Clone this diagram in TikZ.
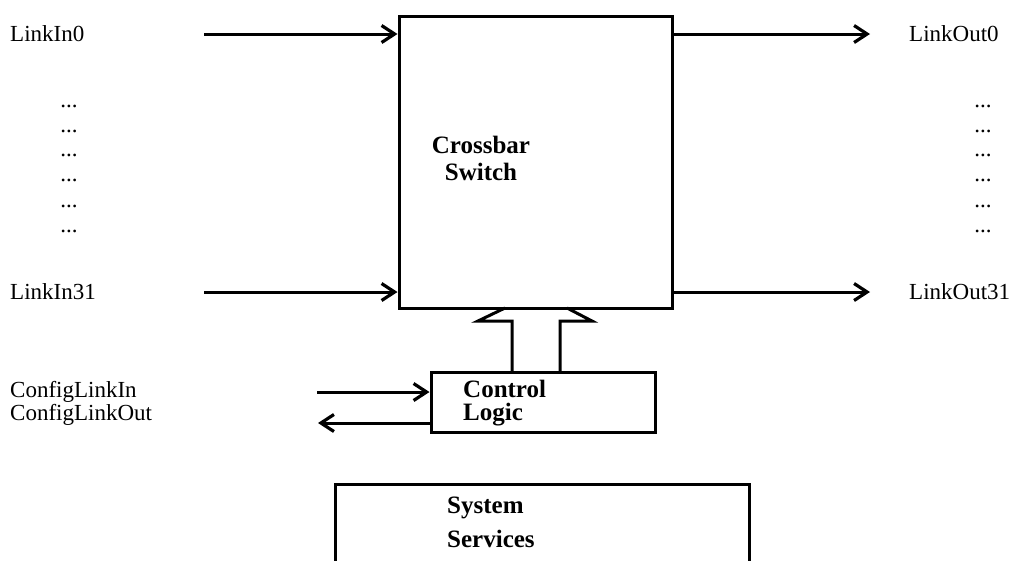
\documentclass[tikz,border=0pt]{standalone}
\usepackage{fontspec}
\setmainfont{Liberation Serif}
\usetikzlibrary{arrows.meta}
\tikzset{
  box/.style={draw=black, line width=3pt, fill=none, inner sep=0pt},
  lbl/.style={font=\fontsize{23}{27}\selectfont, inner sep=0pt, anchor=west},
  blbl/.style={font=\fontsize{25}{30}\selectfont\bfseries, inner sep=0pt, align=left, anchor=west},
  dotsl/.style={font=\fontsize{23}{27}\selectfont, inner sep=0pt},
  conn/.style={line width=3pt, -{Straight Barb[length=13pt,width=17pt,line width=3.2pt]}},
  blk/.style={line width=3pt, line join=miter}
}
\begin{document}
\begin{tikzpicture}[x=1pt,y=-1pt]
\useasboundingbox (0,0) rectangle (1011,560);
% boxes
\node[box, minimum width=273pt, minimum height=292pt] (xbar) at (535.5,162) {};
\node[box, minimum width=224pt, minimum height=60pt] (ctrl) at (543,402) {};
\draw[box] (335,575) -- (335,484) -- (749,484) -- (749,575);
\coordinate (ssNW) at (335,484);
% texts
\node[blbl, align=center, anchor=center] (xbartxt) at (481,158) {Crossbar\\[-3pt]Switch};
\node[blbl, anchor=west] (ctrl1) at (463,389) {Control};
\node[blbl, anchor=west] (ctrl2) at (463,415) {Logic};
\node[blbl, anchor=west] (ss1) at (447,508) {System};
\node[blbl, anchor=west] (ss2) at (447,539) {Services};
\node[lbl] (in0) at (10,34) {LinkIn0};
\node[lbl] (in31) at (10,292) {LinkIn31};
\node[lbl] (out0) at (909,34) {LinkOut0};
\node[lbl] (out31) at (909,292) {LinkOut31};
\node[lbl] (cin) at (10,392) {ConfigLinkIn};
\node[lbl] (cout) at (10,415) {ConfigLinkOut};
\foreach \i/\yy in {1/106,2/131,3/155,4/180,5/206,6/231}{
  \node[dotsl] (ld\i) at (69,\yy) {...};
  \node[dotsl] (rd\i) at (983,\yy) {...};
}
% connectors
\coordinate (in0s) at (204,34);
\coordinate (in31s) at (204,292);
\coordinate (out0e) at (870,34);
\coordinate (out31e) at (870,292);
\coordinate (cins) at (317,392);
\coordinate (coute) at (318,423);
\draw[conn] (in0s) -- (in0s -| xbar.west);
\draw[conn] (in31s) -- (in31s -| xbar.west);
\draw[conn] (out0e -| xbar.east) -- (out0e);
\draw[conn] (out31e -| xbar.east) -- (out31e);
\draw[conn] (cins) -- (cins -| ctrl.west);
\draw[conn] (coute -| ctrl.west) -- (coute);
% block arrow from control logic to crossbar
\draw[blk] (512,372) -- (512,321) -- (478,321) -- (505,308);
\draw[blk] (560,372) -- (560,321) -- (592,321) -- (567,308);
\end{tikzpicture}
\end{document}
